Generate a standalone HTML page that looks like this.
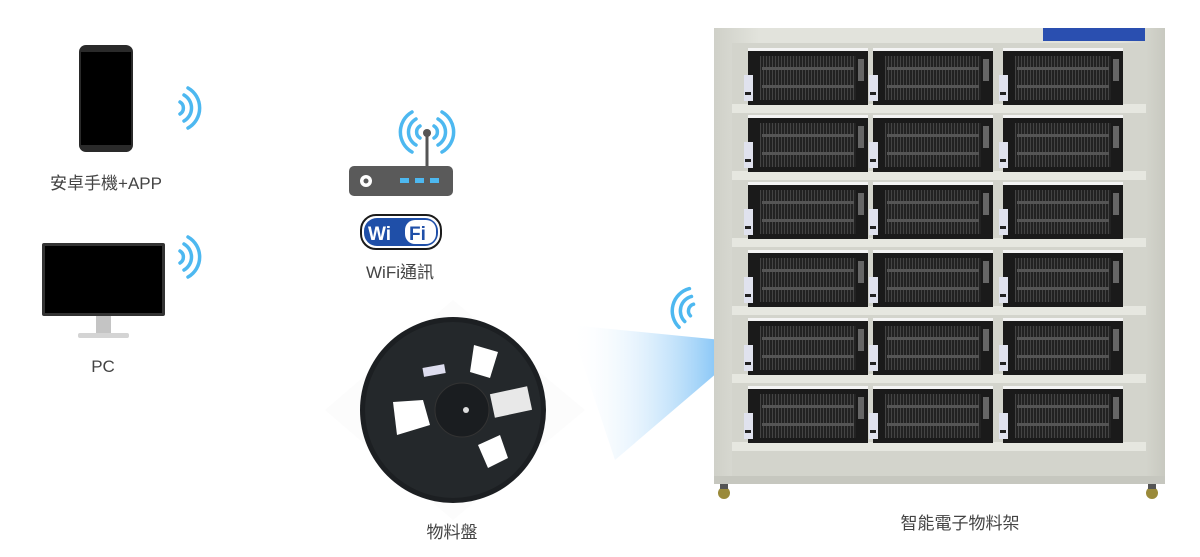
<!DOCTYPE html>
<html><head><meta charset="utf-8"><style>
html,body{margin:0;padding:0;background:#fff;}
svg{display:block}
text{font-family:"Liberation Sans","Noto Sans CJK TC",sans-serif;fill:#444;font-size:17px}
</style></head><body>
<svg id="s" width="1200" height="557" viewBox="0 0 1200 557" xmlns="http://www.w3.org/2000/svg">
<defs>
<linearGradient id="beam" x1="0" y1="0" x2="1" y2="0">
<stop offset="0" stop-color="#fff" stop-opacity="0"/>
<stop offset="1" stop-color="#4aa9f2"/>
</linearGradient>
<linearGradient id="frame" x1="0" y1="0" x2="1" y2="0">
<stop offset="0" stop-color="#cfd0c8"/><stop offset="0.1" stop-color="#e2e3dc"/><stop offset="0.9" stop-color="#e2e3dc"/><stop offset="1" stop-color="#c8c9c0"/>
</linearGradient>
<pattern id="rib" width="3" height="10" patternUnits="userSpaceOnUse">
<rect width="3" height="10" fill="#222"/><rect width="1" height="10" fill="#444"/>
</pattern>
<g id="wave" fill="none" stroke="#4db8f0" stroke-width="3.5" stroke-linecap="round">
<path d="M0,-6 A7,7 0 0 1 0,6"/>
<path d="M4,-13 A15,15 0 0 1 4,13"/>
<path d="M8,-20 A23,23 0 0 1 8,20"/>
</g>
<g id="bin">
<rect x="0" y="0" width="120" height="54" fill="#1a1a1a"/>
<rect x="0" y="-3" width="120" height="3" fill="#f4f4f4"/>
<rect x="12" y="5" width="96" height="44" fill="url(#rib)"/>
<rect x="14" y="16" width="92" height="3" fill="#555"/>
<rect x="14" y="34" width="92" height="3" fill="#555"/>
<rect x="-4" y="24" width="9" height="26" fill="#e0e2ee"/>
<rect x="-3" y="41" width="6" height="3" fill="#222"/>
<rect x="110" y="8" width="6" height="22" fill="#666"/>
</g>
</defs>

<!-- beam -->
<polygon points="570,325 752,343 615,460" fill="url(#beam)"/>

<!-- phone -->
<rect x="79" y="45" width="54" height="107" rx="7" fill="#2a2a2a"/>
<rect x="81" y="52" width="50" height="93" fill="#000"/>
<use href="#wave" x="180" y="108"/>
<text x="106" y="189" text-anchor="middle">安卓手機+APP</text>

<!-- monitor -->
<rect x="42" y="243" width="123" height="73" rx="2" fill="#333"/>
<rect x="45" y="246" width="117" height="67" fill="#000"/>
<rect x="96" y="316" width="15" height="17" fill="#c4c4c4"/>
<rect x="78" y="333" width="51" height="5" rx="2" fill="#d4d4d4"/>
<use href="#wave" x="180" y="257"/>
<text x="103" y="372" text-anchor="middle">PC</text>

<!-- router -->
<use href="#wave" x="434" y="132"/>
<g transform="translate(420,132) scale(-1,1)"><use href="#wave" x="0" y="0"/></g>
<line x1="427" y1="133" x2="427" y2="167" stroke="#555" stroke-width="3"/>
<circle cx="427" cy="133" r="4" fill="#555"/>
<rect x="349" y="166" width="104" height="30" rx="5" fill="#5a5a5a"/>
<circle cx="366" cy="181" r="6" fill="#fff"/><circle cx="366" cy="181" r="2.5" fill="#5a5a5a"/>
<rect x="400" y="178" width="9" height="5" fill="#4db8f0"/>
<rect x="415" y="178" width="9" height="5" fill="#4db8f0"/>
<rect x="430" y="178" width="9" height="5" fill="#4db8f0"/>
<!-- wifi logo -->
<rect x="361" y="215" width="80" height="34" rx="15" fill="#fff" stroke="#1b1b1b" stroke-width="2"/>
<rect x="364" y="218" width="74" height="28" rx="13" fill="#1f4fa8"/>
<rect x="405" y="220" width="31" height="24" rx="10" fill="#fff"/>
<text x="368" y="240" style="font-size:19px;font-weight:bold;fill:#fff">Wi</text>
<text x="409" y="240" style="font-size:19px;font-weight:bold;fill:#1f4fa8">Fi</text>
<text x="400" y="278" text-anchor="middle">WiFi通訊</text>

<!-- reel -->
<polygon points="325,410 453,300 585,410 453,520" fill="#fcfcfc"/>
<circle cx="453" cy="410" r="93" fill="#1c1f22"/>
<circle cx="453" cy="410" r="88" fill="#24282b"/>
<circle cx="462" cy="410" r="27" fill="#1a1d20" stroke="#333" stroke-width="1"/>
<circle cx="466" cy="410" r="3" fill="#ddd"/>
<polygon points="474,345 498,352 490,378 470,372" fill="#fff"/>
<polygon points="393,402 423,400 430,425 397,435" fill="#fff"/>
<polygon points="478,445 500,435 508,458 488,468" fill="#fff"/>
<rect x="492" y="390" width="38" height="24" fill="#e8e8e8" transform="rotate(-12 511 402)"/>
<rect x="423" y="366" width="22" height="9" fill="#dde" transform="rotate(-10 434 370)"/>
<use href="#wave" x="692" y="310" transform="rotate(195 692 310)"/>
<text x="452" y="538" text-anchor="middle">物料盤</text>

<!-- cabinet -->
<rect x="714" y="28" width="451" height="456" fill="url(#frame)"/>
<rect x="1043" y="28" width="102" height="13" fill="#2a4fb0"/>
<rect x="732" y="43" width="414" height="433" fill="#d3d4cc"/>
<g id="rows"></g>
<rect x="714" y="476" width="451" height="8" fill="#c6c7bf"/>
<circle cx="724" cy="493" r="6" fill="#9a8a3a"/><rect x="720" y="484" width="8" height="5" fill="#555"/>
<circle cx="1152" cy="493" r="6" fill="#9a8a3a"/><rect x="1148" y="484" width="8" height="5" fill="#555"/>
<text x="960" y="529" text-anchor="middle">智能電子物料架</text>
</svg>
<script>
var g=document.getElementById('rows'),h='';
var ys=[48,115,182,250,318,386];
ys.forEach(function(y){
 h+='<rect x="732" y="'+(y+56)+'" width="414" height="9" fill="#e6e7e0"/>';
 [748,873,1003].forEach(function(x){h+='<use href="#bin" x="'+x+'" y="'+(y+3)+'"/>';});
});
g.innerHTML=h;
</script>
</body></html>
